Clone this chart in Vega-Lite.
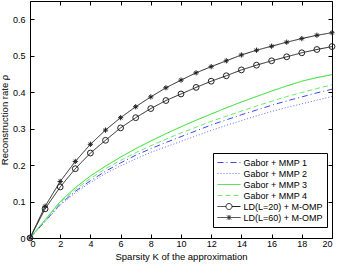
{
  "$schema": "https://vega.github.io/schema/vega-lite/v6.json",
  "width": 302,
  "height": 237,
  "autosize": {"type": "none"},
  "padding": {"left": 30, "top": 1, "right": 6, "bottom": 27},
  "background": "white",
  "config": {
    "font": "Liberation Sans",
    "view": {"stroke": "black", "strokeWidth": 1},
    "axis": {
      "domain": false, "grid": false, "tickColor": "black", "tickSize": -4, "tickWidth": 1,
      "labelColor": "black", "labelFontSize": 9, "titleFontSize": 9.5, "titleFontWeight": "normal",
      "titleColor": "black"
    },
    "legend": {
      "orient": "none", "legendX": 183, "legendY": 152, "strokeColor": "black", "fillColor": "white",
      "padding": 4, "symbolSize": 100, "symbolOffset": 6.5, "labelOffset": 9, "labelFontSize": 9,
      "rowPadding": -0.4, "symbolStrokeWidth": 1, "labelLimit": 200, "labelColor": "black"
    }
  },
  "data": {"values": [
    {"k":0,"rate":0,"series":"Gabor + MMP 1"},{"k":1,"rate":0.046,"series":"Gabor + MMP 1"},{"k":2,"rate":0.093,"series":"Gabor + MMP 1"},{"k":3,"rate":0.128,"series":"Gabor + MMP 1"},{"k":4,"rate":0.157,"series":"Gabor + MMP 1"},{"k":5,"rate":0.183,"series":"Gabor + MMP 1"},{"k":6,"rate":0.206,"series":"Gabor + MMP 1"},{"k":7,"rate":0.227,"series":"Gabor + MMP 1"},{"k":8,"rate":0.245,"series":"Gabor + MMP 1"},{"k":9,"rate":0.262,"series":"Gabor + MMP 1"},{"k":10,"rate":0.278,"series":"Gabor + MMP 1"},{"k":11,"rate":0.294,"series":"Gabor + MMP 1"},{"k":12,"rate":0.31,"series":"Gabor + MMP 1"},{"k":13,"rate":0.324,"series":"Gabor + MMP 1"},{"k":14,"rate":0.338,"series":"Gabor + MMP 1"},{"k":15,"rate":0.351,"series":"Gabor + MMP 1"},{"k":16,"rate":0.364,"series":"Gabor + MMP 1"},{"k":17,"rate":0.376,"series":"Gabor + MMP 1"},{"k":18,"rate":0.387,"series":"Gabor + MMP 1"},{"k":19,"rate":0.398,"series":"Gabor + MMP 1"},{"k":20,"rate":0.408,"series":"Gabor + MMP 1"},
    {"k":0,"rate":0,"series":"Gabor + MMP 2"},{"k":1,"rate":0.045,"series":"Gabor + MMP 2"},{"k":2,"rate":0.09,"series":"Gabor + MMP 2"},{"k":3,"rate":0.124,"series":"Gabor + MMP 2"},{"k":4,"rate":0.152,"series":"Gabor + MMP 2"},{"k":5,"rate":0.177,"series":"Gabor + MMP 2"},{"k":6,"rate":0.198,"series":"Gabor + MMP 2"},{"k":7,"rate":0.217,"series":"Gabor + MMP 2"},{"k":8,"rate":0.235,"series":"Gabor + MMP 2"},{"k":9,"rate":0.25,"series":"Gabor + MMP 2"},{"k":10,"rate":0.265,"series":"Gabor + MMP 2"},{"k":11,"rate":0.28,"series":"Gabor + MMP 2"},{"k":12,"rate":0.295,"series":"Gabor + MMP 2"},{"k":13,"rate":0.309,"series":"Gabor + MMP 2"},{"k":14,"rate":0.322,"series":"Gabor + MMP 2"},{"k":15,"rate":0.335,"series":"Gabor + MMP 2"},{"k":16,"rate":0.347,"series":"Gabor + MMP 2"},{"k":17,"rate":0.358,"series":"Gabor + MMP 2"},{"k":18,"rate":0.368,"series":"Gabor + MMP 2"},{"k":19,"rate":0.378,"series":"Gabor + MMP 2"},{"k":20,"rate":0.388,"series":"Gabor + MMP 2"},
    {"k":0,"rate":0,"series":"Gabor + MMP 3"},{"k":1,"rate":0.05,"series":"Gabor + MMP 3"},{"k":2,"rate":0.1,"series":"Gabor + MMP 3"},{"k":3,"rate":0.138,"series":"Gabor + MMP 3"},{"k":4,"rate":0.17,"series":"Gabor + MMP 3"},{"k":5,"rate":0.197,"series":"Gabor + MMP 3"},{"k":6,"rate":0.222,"series":"Gabor + MMP 3"},{"k":7,"rate":0.245,"series":"Gabor + MMP 3"},{"k":8,"rate":0.266,"series":"Gabor + MMP 3"},{"k":9,"rate":0.286,"series":"Gabor + MMP 3"},{"k":10,"rate":0.305,"series":"Gabor + MMP 3"},{"k":11,"rate":0.323,"series":"Gabor + MMP 3"},{"k":12,"rate":0.34,"series":"Gabor + MMP 3"},{"k":13,"rate":0.357,"series":"Gabor + MMP 3"},{"k":14,"rate":0.373,"series":"Gabor + MMP 3"},{"k":15,"rate":0.388,"series":"Gabor + MMP 3"},{"k":16,"rate":0.403,"series":"Gabor + MMP 3"},{"k":17,"rate":0.417,"series":"Gabor + MMP 3"},{"k":18,"rate":0.43,"series":"Gabor + MMP 3"},{"k":19,"rate":0.44,"series":"Gabor + MMP 3"},{"k":20,"rate":0.448,"series":"Gabor + MMP 3"},
    {"k":0,"rate":0,"series":"Gabor + MMP 4"},{"k":1,"rate":0.048,"series":"Gabor + MMP 4"},{"k":2,"rate":0.097,"series":"Gabor + MMP 4"},{"k":3,"rate":0.133,"series":"Gabor + MMP 4"},{"k":4,"rate":0.163,"series":"Gabor + MMP 4"},{"k":5,"rate":0.19,"series":"Gabor + MMP 4"},{"k":6,"rate":0.213,"series":"Gabor + MMP 4"},{"k":7,"rate":0.234,"series":"Gabor + MMP 4"},{"k":8,"rate":0.253,"series":"Gabor + MMP 4"},{"k":9,"rate":0.271,"series":"Gabor + MMP 4"},{"k":10,"rate":0.288,"series":"Gabor + MMP 4"},{"k":11,"rate":0.304,"series":"Gabor + MMP 4"},{"k":12,"rate":0.32,"series":"Gabor + MMP 4"},{"k":13,"rate":0.334,"series":"Gabor + MMP 4"},{"k":14,"rate":0.348,"series":"Gabor + MMP 4"},{"k":15,"rate":0.362,"series":"Gabor + MMP 4"},{"k":16,"rate":0.375,"series":"Gabor + MMP 4"},{"k":17,"rate":0.388,"series":"Gabor + MMP 4"},{"k":18,"rate":0.399,"series":"Gabor + MMP 4"},{"k":19,"rate":0.41,"series":"Gabor + MMP 4"},{"k":20,"rate":0.42,"series":"Gabor + MMP 4"},
    {"k":0,"rate":0,"series":"LD(L=20) + M-OMP"},{"k":1,"rate":0.08,"series":"LD(L=20) + M-OMP"},{"k":2,"rate":0.14,"series":"LD(L=20) + M-OMP"},{"k":3,"rate":0.19,"series":"LD(L=20) + M-OMP"},{"k":4,"rate":0.233,"series":"LD(L=20) + M-OMP"},{"k":5,"rate":0.268,"series":"LD(L=20) + M-OMP"},{"k":6,"rate":0.302,"series":"LD(L=20) + M-OMP"},{"k":7,"rate":0.33,"series":"LD(L=20) + M-OMP"},{"k":8,"rate":0.355,"series":"LD(L=20) + M-OMP"},{"k":9,"rate":0.377,"series":"LD(L=20) + M-OMP"},{"k":10,"rate":0.395,"series":"LD(L=20) + M-OMP"},{"k":11,"rate":0.413,"series":"LD(L=20) + M-OMP"},{"k":12,"rate":0.43,"series":"LD(L=20) + M-OMP"},{"k":13,"rate":0.445,"series":"LD(L=20) + M-OMP"},{"k":14,"rate":0.461,"series":"LD(L=20) + M-OMP"},{"k":15,"rate":0.474,"series":"LD(L=20) + M-OMP"},{"k":16,"rate":0.486,"series":"LD(L=20) + M-OMP"},{"k":17,"rate":0.497,"series":"LD(L=20) + M-OMP"},{"k":18,"rate":0.508,"series":"LD(L=20) + M-OMP"},{"k":19,"rate":0.517,"series":"LD(L=20) + M-OMP"},{"k":20,"rate":0.525,"series":"LD(L=20) + M-OMP"},
    {"k":0,"rate":0,"series":"LD(L=60) + M-OMP"},{"k":1,"rate":0.087,"series":"LD(L=60) + M-OMP"},{"k":2,"rate":0.155,"series":"LD(L=60) + M-OMP"},{"k":3,"rate":0.21,"series":"LD(L=60) + M-OMP"},{"k":4,"rate":0.257,"series":"LD(L=60) + M-OMP"},{"k":5,"rate":0.296,"series":"LD(L=60) + M-OMP"},{"k":6,"rate":0.33,"series":"LD(L=60) + M-OMP"},{"k":7,"rate":0.36,"series":"LD(L=60) + M-OMP"},{"k":8,"rate":0.387,"series":"LD(L=60) + M-OMP"},{"k":9,"rate":0.412,"series":"LD(L=60) + M-OMP"},{"k":10,"rate":0.433,"series":"LD(L=60) + M-OMP"},{"k":11,"rate":0.453,"series":"LD(L=60) + M-OMP"},{"k":12,"rate":0.47,"series":"LD(L=60) + M-OMP"},{"k":13,"rate":0.486,"series":"LD(L=60) + M-OMP"},{"k":14,"rate":0.502,"series":"LD(L=60) + M-OMP"},{"k":15,"rate":0.515,"series":"LD(L=60) + M-OMP"},{"k":16,"rate":0.526,"series":"LD(L=60) + M-OMP"},{"k":17,"rate":0.537,"series":"LD(L=60) + M-OMP"},{"k":18,"rate":0.547,"series":"LD(L=60) + M-OMP"},{"k":19,"rate":0.556,"series":"LD(L=60) + M-OMP"},{"k":20,"rate":0.563,"series":"LD(L=60) + M-OMP"}
  ]},
  "resolve": {"axis": {"x": "independent", "y": "independent"}},
  "layer": [
    {
      "mark": {"type": "line", "strokeWidth": 1},
      "encoding": {
        "x": {"field": "k", "type": "quantitative", "scale": {"domain": [0, 20], "nice": false},
              "axis": {"orient": "bottom", "values": [0,2,4,6,8,10,12,14,16,18,20], "title": "Sparsity K of the approximation", "labelPadding": 5, "titlePadding": 3}},
        "y": {"field": "rate", "type": "quantitative", "scale": {"domain": [0, 0.65], "nice": false},
              "axis": {"orient": "left", "values": [0,0.1,0.2,0.3,0.4,0.5,0.6], "format": ".1~f", "title": "Reconstruction rate ρ", "labelPadding": 9, "titlePadding": 3}},
        "color": {"field": "series", "type": "nominal",
          "scale": {"domain": ["Gabor + MMP 1","Gabor + MMP 2","Gabor + MMP 3","Gabor + MMP 4","LD(L=20) + M-OMP","LD(L=60) + M-OMP"],
                    "range": ["#4444ee","#6666ff","#22dd22","#66ee66","#222222","#222222"]},
          "legend": {"title": null,
            "encode": {"symbols": {"update": {
              "fill": {"value": "transparent"},
              "shape": {"signal": "datum.value === 'LD(L=20) + M-OMP' ? 'M-2.3,0H-0.6M0.6,0H2.3M-0.6,0A0.6,0.6 0 1 0 0.6,0A0.6,0.6 0 1 0 -0.6,0' : datum.value === 'LD(L=60) + M-OMP' ? 'M-2.3,0H2.3M-0.4,-0.4L0.4,0.4M-0.4,0.4L0.4,-0.4M0,-0.5V0.5' : 'M-2.3,0H2.3'"}
            }}}}},
        "strokeDash": {"field": "series", "type": "nominal",
          "scale": {"domain": ["Gabor + MMP 1","Gabor + MMP 2","Gabor + MMP 3","Gabor + MMP 4","LD(L=20) + M-OMP","LD(L=60) + M-OMP"],
                    "range": [[6,3,1,3],[1,2],[1,0],[5,3],[1,0],[1,0]]},
          "legend": {"title": null}}
      }
    },
    {
      "transform": [{"filter": {"field": "series", "oneOf": ["LD(L=20) + M-OMP","LD(L=60) + M-OMP"]}}],
      "mark": {"type": "point", "filled": false, "strokeWidth": 1, "size": 34, "opacity": 1},
      "encoding": {
        "x": {"field": "k", "type": "quantitative", "axis": {"orient": "top", "values": [0,2,4,6,8,10,12,14,16,18,20], "labels": false, "title": null}},
        "y": {"field": "rate", "type": "quantitative", "axis": {"orient": "right", "values": [0,0.1,0.2,0.3,0.4,0.5,0.6], "labels": false, "title": null}},
        "shape": {"field": "series", "type": "nominal",
          "scale": {"domain": ["LD(L=20) + M-OMP","LD(L=60) + M-OMP"], "range": ["circle", "M-0.9,0H0.9M0,-0.9V0.9M-0.6,-0.6L0.6,0.6M-0.6,0.6L0.6,-0.6"]},
          "legend": null},
        "color": {"value": "#222222"}
      }
    }
  ]
}
